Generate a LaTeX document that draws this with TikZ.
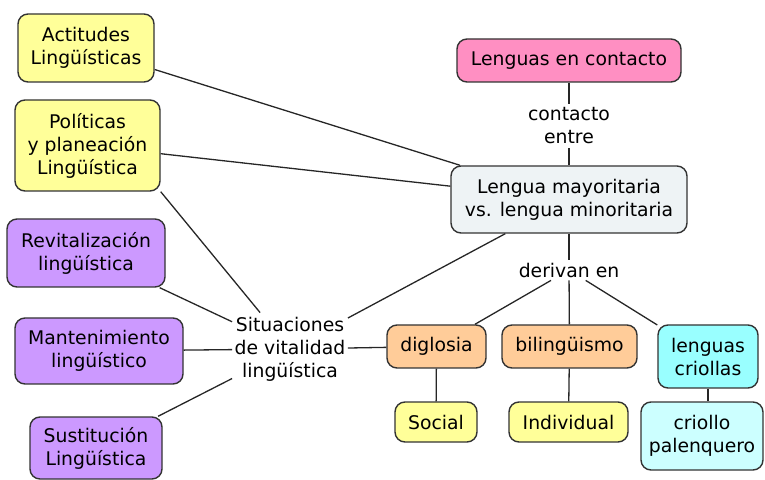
\documentclass[tikz,border=0pt]{standalone}
\usepackage{fontspec}
\setmainfont{DejaVu Sans}
\usetikzlibrary{arrows}
\definecolor{amarND}{HTML}{FFFF99}
\definecolor{rosaND}{HTML}{FF8FC2}
\definecolor{moraND}{HTML}{CC99FF}
\definecolor{naraND}{HTML}{FFCC99}
\definecolor{cianND}{HTML}{99FFFF}
\definecolor{cclaND}{HTML}{CCFFFF}
\definecolor{grisND}{HTML}{EEF3F5}

\begin{document}
\begin{tikzpicture}[x=0.5pt,y=-0.5pt,
                    font=\fontsize{9.4}{11.5}\selectfont,
                    conND/.style={rectangle,
                                  rounded corners=5pt,
                                  draw=black!80,
                                  line width=0.7pt,
                                  inner sep=1pt,
                                  align=center,
                                  text centered},
                    etqND/.style={inner sep=1pt,
                                  align=center},
                    every edge/.style={draw=black!85, line width=0.65pt}]
            \useasboundingbox (0,0) rectangle (765,480);
            % conceptos
            \node[conND, fill=rosaND, minimum width=112pt, minimum height=21.5pt](LEC) at (569,60.5) {Lenguas en contacto};
            \node[etqND, minimum height=22pt](CE)  at (569,126) {contacto\\entre};
            \node[conND, fill=grisND, minimum width=118pt, minimum height=33.5pt](LMM) at (569,199.5) {Lengua mayoritaria\\vs. lengua minoritaria};
            \node[etqND, minimum height=10pt](DE)  at (569,270) {derivan en};
            \node[conND, fill=amarND, minimum width=68pt, minimum height=34pt](ACT) at (86,48)    {Actitudes\\Lingüísticas};
            \node[conND, fill=amarND, minimum width=72.5pt, minimum height=45.5pt](POL) at (87.5,145.5) {Políticas\\y planeación\\Lingüística};
            \node[conND, fill=moraND, minimum width=79pt, minimum height=34pt](REV) at (86,253)   {Revitalización\\lingüística};
            \node[conND, fill=moraND, minimum width=84pt, minimum height=33pt](MAN) at (99,351)   {Mantenimiento\\lingüístico};
            \node[conND, fill=moraND, minimum width=66pt, minimum height=31pt](SUS) at (96,448)   {Sustitución\\Lingüística};
            \node[etqND, minimum width=57.5pt, minimum height=36pt](SIT) at (290,349) {Situaciones\\de vitalidad\\lingüística};
            \node[conND, fill=naraND, minimum width=49.5pt, minimum height=21.5pt](DIG) at (436.5,346.5) {diglosia};
            \node[conND, fill=naraND, minimum width=67.5pt, minimum height=21.5pt](BIL) at (569.5,346.5) {bilingüismo};
            \node[conND, fill=cianND, minimum width=50pt, minimum height=31.5pt](CRI) at (708,356.5)   {lenguas\\criollas};
            \node[conND, fill=amarND, minimum width=41pt, minimum height=20pt](SOC) at (436,422)       {Social};
            \node[conND, fill=amarND, minimum width=59.5pt, minimum height=20pt](IND) at (568.5,422)   {Individual};
            \node[conND, fill=cclaND, minimum width=61pt, minimum height=34pt](PAL) at (702,436)       {criollo\\palenquero};
            % enlaces
            \path
                (LEC) edge (CE)
                (CE)  edge (LMM)
                (LMM) edge (DE)
                      edge (ACT)
                      edge (POL)
                      edge (SIT)
                (POL.south east) edge (SIT)
                (SIT) edge (REV)
                      edge (MAN)
                      edge (SUS)
                      edge (DIG)
                (DE)  edge (DIG)
                      edge (BIL)
                      edge (CRI)
                (DIG) edge (SOC)
                (BIL) edge (IND)
                (CRI.south) edge (CRI.south |- PAL.north)
                ;
\end{tikzpicture}
\end{document}
